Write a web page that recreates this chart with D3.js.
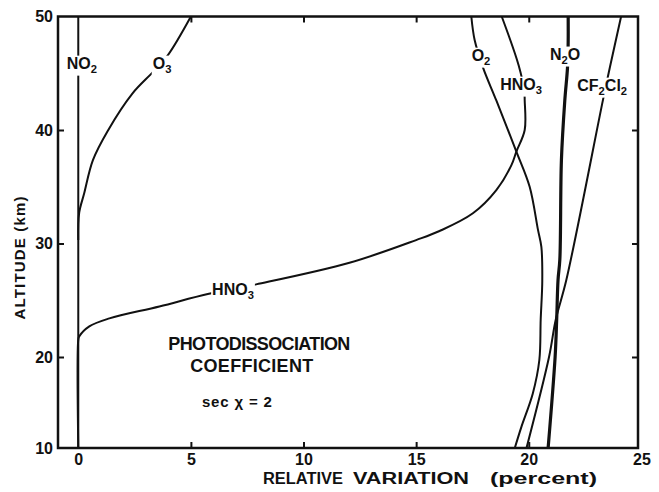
<!DOCTYPE html>
<html>
<head>
<meta charset="utf-8">
<script src="https://cdn.jsdelivr.net/npm/d3@7"></script>
<style>
  body { margin: 0; background: #fff; }
  svg { display: block; }
  text { font-family: "Liberation Sans", Arial, sans-serif; font-weight: bold; fill: #111; }
  .tick text { font-size: 16px; }
</style>
</head>
<body>
<svg id="chart" width="659" height="492"></svg>
<script>
// altitude (km) vs relative variation (percent)
var no2Alt = [10, 50];
var no2Val = [0, 0];

var o3Alt = [30.3, 32.7, 34.4, 37.35, 39.9, 43.23, 45.14, 46.6, 50];
var o3Val = [0, 0.04, 0.26, 0.65, 1.3, 2.41, 3.33, 3.98, 5.0];

var hno3Alt = [10, 21.5, 21.8, 22.7, 23.4, 24.45, 25.55, 26.4, 28.3, 30.3, 31.1, 32.66, 34.7, 36.9, 38.1, 40.0, 42.6, 43.45, 45.7, 50];
var hno3Val = [0, 0, 0.04, 0.49, 1.38, 3.6, 5.75, 7.9, 12.04, 15.0, 16.04, 17.52, 18.56, 19.23, 19.45, 19.82, 19.82, 19.8, 19.55, 18.8];

var o2Alt = [10, 12.3, 16.0, 19.67, 23.3, 26.7, 29.7, 31.2, 35.0, 38.1, 42.6, 45.5, 47.9, 50];
var o2Val = [19.38, 19.67, 20.18, 20.47, 20.53, 20.6, 20.56, 20.41, 20.04, 19.45, 18.56, 17.97, 17.6, 17.45];

var n2oAlt = [10, 20, 23.3, 26.8, 28.6, 37.35, 42.6, 45.5, 47.75, 50];
var n2oVal = [20.86, 21.17, 21.24, 21.3, 21.38, 21.45, 21.6, 21.72, 21.75, 21.75];

var cfAlt = [10, 20, 23.3, 26.8, 42.7, 45.5, 50];
var cfVal = [19.9, 20.9, 21.2, 21.67, 23.3, 23.6, 24.1];

var xTicks = [0, 5, 10, 15, 20, 25];
var yTicks = [10, 20, 30, 40, 50];

// labels on the curves: text ("_" = subscript), variation, altitude
var labelText = ["NO_2", "O_3", "O_2", "HNO_3", "N_2O", "CF_2Cl_2", "HNO_3"];
var labelVal  = [0.16, 3.72, 17.88, 19.66, 21.61, 23.26, 6.87];
var labelAlt  = [45.9, 45.9, 46.6, 44.05, 46.7, 43.96, 25.99];

var svg = d3.select("#chart");

var x = d3.scaleLinear().domain([-0.9, 24.85]).range([58, 638]);
// the original figure squeezes the 10-20 km interval
var y = d3.scaleLinear().domain([10, 20, 50]).range([448, 357, 16.5]);

function zip(a, v) { return a.map(function (d, i) { return [d, v[i]]; }); }

var series = [
  { pts: zip(no2Alt, no2Val), w: 2 },
  { pts: zip(o3Alt, o3Val), w: 2 },
  { pts: zip(hno3Alt, hno3Val), w: 2 },
  { pts: zip(o2Alt, o2Val), w: 2 },
  { pts: zip(cfAlt, cfVal), w: 2 },
  { pts: zip(n2oAlt, n2oVal), w: 3.2 }
];

var line = d3.line()
  .x(function (d) { return x(d[1]); })
  .y(function (d) { return y(d[0]); })
  .curve(d3.curveCatmullRom.alpha(0.5));

var plot = svg.append("g");
series.forEach(function (s) {
  plot.append("path")
    .datum(s.pts)
    .attr("fill", "none")
    .attr("stroke", "#111")
    .attr("stroke-width", s.w)
    .attr("stroke-linejoin", "round")
    .attr("d", line);
});

// curve labels, each on a white patch that breaks the line
function addLabel(str, px, py, size) {
  var g = svg.append("g");
  var rect = g.append("rect").attr("fill", "#fff");
  var t = g.append("text")
    .attr("x", px).attr("y", py + size * 0.35)
    .attr("text-anchor", "middle")
    .style("font-size", size + "px");
  var low = false;
  str.split(/(_\d)/).filter(function (p) { return p; }).forEach(function (p) {
    if (p[0] === "_") {
      t.append("tspan").attr("dy", low ? 0 : 4).style("font-size", (size * 0.7) + "px").text(p.slice(1));
      low = true;
    } else {
      t.append("tspan").attr("dy", low ? -4 : 0).text(p);
      low = false;
    }
  });
  var b = t.node().getBBox();
  rect.attr("x", b.x - 1).attr("y", b.y + 1).attr("width", b.width + 2).attr("height", b.height);
}

labelText.forEach(function (s, i) {
  addLabel(s, x(labelVal[i]), y(labelAlt[i]), 16);
});

// axes
var gx = svg.append("g")
  .attr("transform", "translate(0," + y(10) + ")")
  .call(d3.axisBottom(x).tickValues(xTicks).tickSize(-6).tickPadding(6));
gx.selectAll(".tick line").filter(function (d) { return d === 0 || d === 25; }).remove();

var gy = svg.append("g")
  .attr("transform", "translate(" + x.range()[0] + ",0)")
  .call(d3.axisLeft(y).tickValues(yTicks).tickSize(-6).tickPadding(5));
gy.selectAll(".tick line").filter(function (d) { return d === 10 || d === 50; }).remove();

var gt = svg.append("g")
  .attr("transform", "translate(0," + y(50) + ")")
  .call(d3.axisTop(x).tickValues([5, 10, 15, 20]).tickSize(-6).tickFormat(""));

var gr = svg.append("g")
  .attr("transform", "translate(" + x.range()[1] + ",0)")
  .call(d3.axisRight(y).tickValues([20, 30, 40]).tickSize(-6).tickFormat(""));

[gx, gy, gt, gr].forEach(function (g) {
  g.attr("font-family", null).attr("font-size", null);
  g.select(".domain").remove();
  g.selectAll(".tick line").attr("stroke", "#111").attr("stroke-width", 2);
  g.selectAll(".tick text").attr("fill", "#111");
});

// frame
svg.append("rect")
  .attr("x", x.range()[0]).attr("y", y(50))
  .attr("width", x.range()[1] - x.range()[0])
  .attr("height", y(10) - y(50))
  .attr("fill", "none").attr("stroke", "#111").attr("stroke-width", 2.5);

// axis titles (the original lettering is wide, so each word is stretched)
var xTitle = [["RELATIVE", 263, 80], ["VARIATION", 353, 116], ["(percent)", 490, 107]];
xTitle.forEach(function (w) {
  svg.append("text")
    .attr("x", w[1]).attr("y", 484)
    .attr("textLength", w[2]).attr("lengthAdjust", "spacingAndGlyphs")
    .style("font-size", "16px")
    .text(w[0]);
});

svg.append("text")
  .attr("transform", "translate(20,258) rotate(-90)")
  .attr("text-anchor", "middle").attr("dy", "0.35em")
  .attr("textLength", 123).attr("lengthAdjust", "spacing")
  .style("font-size", "15px")
  .text("ALTITUDE (km)");

// annotation block
svg.append("text")
  .attr("x", x(4.0)).attr("y", y(20.6))
  .attr("textLength", 182).attr("lengthAdjust", "spacing")
  .style("font-size", "18px")
  .text("PHOTODISSOCIATION");
svg.append("text")
  .attr("x", x(4.97)).attr("y", y(18.35))
  .attr("textLength", 123).attr("lengthAdjust", "spacing")
  .style("font-size", "18px")
  .text("COEFFICIENT");
svg.append("text")
  .attr("x", x(5.49)).attr("y", y(14.5))
  .attr("textLength", 70).attr("lengthAdjust", "spacing")
  .style("font-size", "15px")
  .text("sec χ = 2");
</script>
</body>
</html>
